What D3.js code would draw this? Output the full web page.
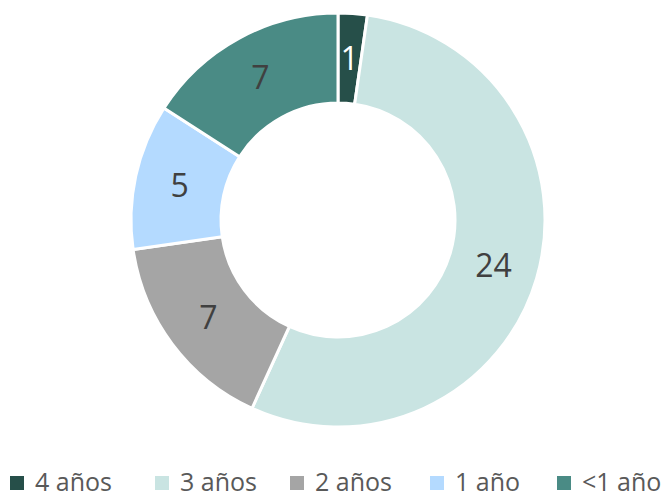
<!DOCTYPE html>
<html>
<head>
<meta charset="utf-8">
<script src="https://cdnjs.cloudflare.com/ajax/libs/d3/7.8.5/d3.min.js"></script>
<style>
  body { margin: 0; background: #fff; overflow: hidden; }
  svg { display: block; font-family: "Open Sans", Lato, sans-serif; }
</style>
</head>
<body>
<svg id="chart" width="670" height="497"></svg>
<script>
var categories = ["4 años", "3 años", "2 años", "1 año", "<1 año"];
var values = [1, 24, 7, 5, 7];
var colors = ["#264f49", "#c9e4e2", "#a5a5a5", "#b4daff", "#4a8b85"];
var labelColors = ["#ffffff", "#404040", "#404040", "#404040", "#404040"];
var legendX = [10, 155, 290, 430, 557];

var svg = d3.select("#chart");
var cx = 338, cy = 220, outerR = 207, innerR = 117;

var pie = d3.pie().sort(null).value(function(d) { return d; });
var arc = d3.arc().innerRadius(innerR).outerRadius(outerR);
var arcs = pie(values);

var g = svg.append("g").attr("transform", "translate(" + cx + "," + cy + ")");

g.selectAll("path")
  .data(arcs)
  .enter().append("path")
  .attr("d", arc)
  .attr("fill", function(d, i) { return colors[i]; })
  .attr("stroke", "#fff")
  .attr("stroke-width", 3);

g.selectAll("text")
  .data(arcs)
  .enter().append("text")
  .attr("transform", function(d) { return "translate(" + arc.centroid(d) + ")"; })
  .attr("text-anchor", "middle")
  .attr("dy", "0.36em")
  .attr("font-size", 32)
  .attr("fill", function(d, i) { return labelColors[i]; })
  .text(function(d) { return d.data; });

// legend
var legend = svg.append("g").attr("transform", "translate(0,482)");
var item = legend.selectAll("g")
  .data(categories)
  .enter().append("g")
  .attr("transform", function(d, i) { return "translate(" + legendX[i] + ",0)"; });

item.append("rect")
  .attr("x", 0).attr("y", -6)
  .attr("width", 14).attr("height", 14)
  .attr("fill", function(d, i) { return colors[i]; });

item.append("text")
  .attr("x", 25)
  .attr("dy", "0.36em")
  .attr("font-size", 25)
  .attr("fill", "#595959")
  .text(function(d) { return d; });
</script>
</body>
</html>
